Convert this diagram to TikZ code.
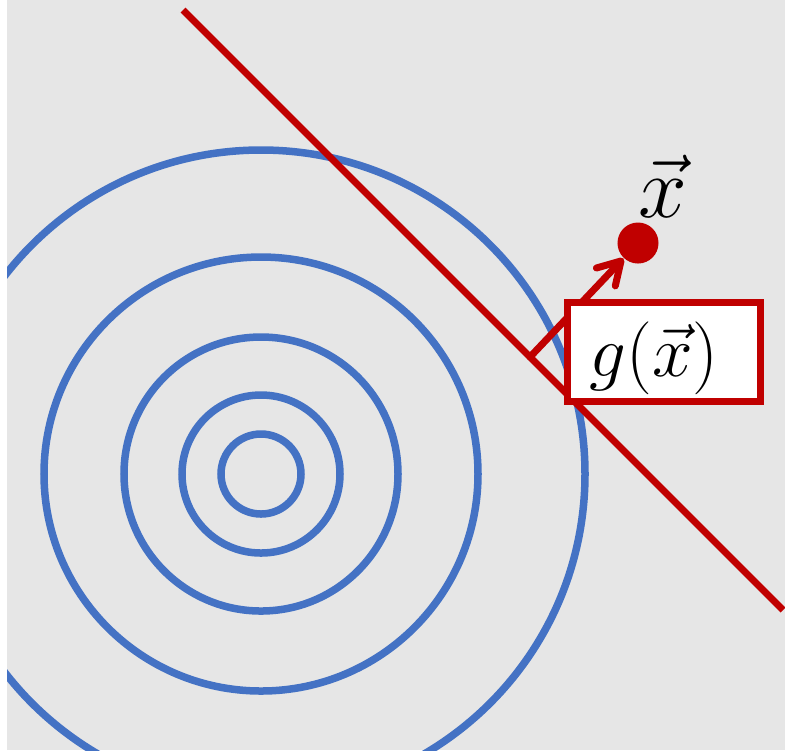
\documentclass[tikz,border=0pt]{standalone}
\usepackage{amsmath}
\usetikzlibrary{arrows.meta,calc,positioning}
\definecolor{lvBlue}{HTML}{4472C4}
\definecolor{lvRed}{HTML}{C00000}
\definecolor{lvGray}{HTML}{E6E6E6}
\tikzset{
 level/.style={draw=lvBlue,line width=.075cm},
 bound/.style={draw=lvRed,line width=.07cm,line cap=butt},
 normalvec/.style={draw=lvRed,line width=.07cm,line cap=round,
   -{Straight Barb[length=2.2mm,width=2.6mm,line cap=round,line join=round]}},
 dot/.style={circle,fill=lvRed,inner sep=0pt,minimum size=.41cm},
 valbox/.style={rectangle,draw=lvRed,fill=white,line width=.07cm,
   minimum width=1.92cm,minimum height=.99cm,inner sep=0pt},
 vallabel/.style={font=\fontsize{20.5}{24}\selectfont,inner sep=0pt},
 ptlabel/.style={font=\fontsize{24}{28}\selectfont,inner sep=0pt}
}
\begin{document}
\begin{tikzpicture}[x=.01cm,y=-.01cm]
 \useasboundingbox (0,0) rectangle (785,750);
 \fill[white] (0,0) rectangle (785,750);
 \fill[lvGray] (7,0) rectangle (785,750);
 % level sets
 \coordinate (c) at (261,474);
 \begin{scope}
 \clip (7,0) rectangle (785,750);
 \foreach \r in {40,79,137,217,324}
   \draw[level] (c) circle[radius=\r];
 \end{scope}
 % constraint line
 \coordinate (top) at (183,10); \coordinate (bot) at (783,610);
 \draw[bound] (top)--(bot);
 % point and gradient
 \node[dot] (xpt) at (638,243) {};
 \node[ptlabel] (xlab) at (663,186) {$\vec{x}$};
 \coordinate (foot) at (530,357);
 \draw[normalvec] (foot)--(xpt);
 \node[valbox] (gbox) at (664,352) {};
 \node[vallabel] (glab) at (654,358) {$g(\vec{x})$};
\end{tikzpicture}
\end{document}
